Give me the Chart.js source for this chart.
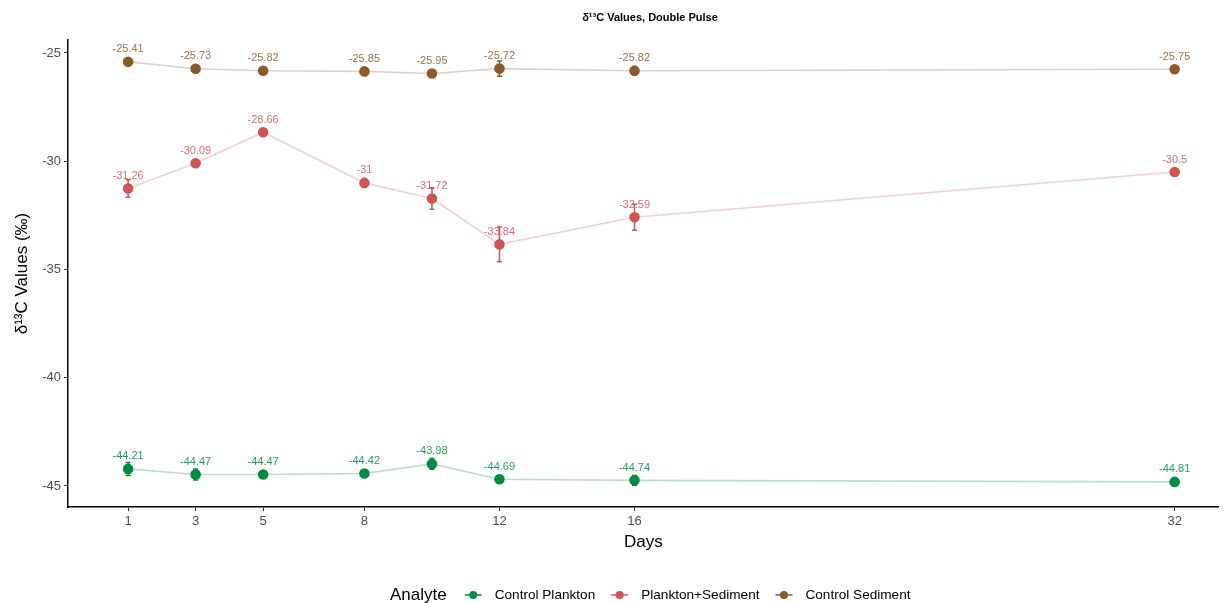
<!DOCTYPE html>
<html lang="en">
<head>
  <meta charset="UTF-8">
  <title>d13C Values, Double Pulse</title>
  <script src="https://cdn.jsdelivr.net/npm/chart.js"></script>
  <style>
    html, body { margin: 0; padding: 0; background: #fff; }
    .chart-container { position: relative; width: 1225px; height: 603px; }
  </style>
</head>
<body>
  <div class="chart-container">
    <canvas id="isoChart"></canvas>
  </div>

  <script>
    // sampling days and the ticks shown on the x axis
    const days = [1, 3, 5, 8, 10, 12, 16, 32];
    const dayTicks = [1, 3, 5, 8, 12, 16, 32];
    const valueTicks = [-45, -40, -35, -30, -25];

    // mean d13C per analyte, with the error bar half-widths
    const controlPlankton = [-44.21, -44.47, -44.47, -44.42, -43.98, -44.69, -44.74, -44.81];
    const controlPlanktonErr = [0.3, 0.25, 0.08, 0.12, 0.25, 0.05, 0.22, 0.1];
    const planktonSediment = [-31.26, -30.09, -28.66, -31, -31.72, -33.84, -32.59, -30.5];
    const planktonSedimentErr = [0.4, 0.15, 0.05, 0.2, 0.5, 0.8, 0.6, 0.05];
    const controlSediment = [-25.41, -25.73, -25.82, -25.85, -25.95, -25.72, -25.82, -25.75];
    const controlSedimentErr = [0.05, 0.08, 0.12, 0.05, 0.08, 0.35, 0.2, 0.1];

    const seriesNames = ['Control Plankton', 'Plankton+Sediment', 'Control Sediment'];
    const seriesColors = ['#008B45', '#CD5555', '#8B5A2B'];
    const lineColors = ['rgba(0,139,69,0.28)', 'rgba(205,85,85,0.28)', 'rgba(139,90,43,0.28)'];

    const FONT = '"Liberation Sans", Arial, sans-serif';

    function makeSet(i, values, errs) {
      return {
        label: seriesNames[i],
        data: days.map((d, k) => ({ x: d, y: values[k] })),
        errs: errs,
        borderColor: lineColors[i],
        backgroundColor: seriesColors[i],
        pointBackgroundColor: seriesColors[i],
        pointBorderColor: seriesColors[i],
        pointRadius: 4.5,
        pointHoverRadius: 4.5,
        borderWidth: 1.6,
        tension: 0,
        showLine: true
      };
    }

    // error bars, value labels, title and legend
    const decorations = {
      id: 'decorations',
      afterDatasetsDraw(chart) {
        const ctx = chart.ctx;
        const yScale = chart.scales.y;
        chart.data.datasets.forEach((ds, i) => {
          const meta = chart.getDatasetMeta(i);
          ctx.save();
          ctx.strokeStyle = seriesColors[i];
          ctx.lineWidth = 1.5;
          meta.data.forEach((pt, k) => {
            const v = ds.data[k].y;
            const e = ds.errs[k];
            const top = yScale.getPixelForValue(v + e);
            const bot = yScale.getPixelForValue(v - e);
            ctx.beginPath();
            ctx.moveTo(pt.x, top); ctx.lineTo(pt.x, bot);
            ctx.moveTo(pt.x - 2.5, top); ctx.lineTo(pt.x + 2.5, top);
            ctx.moveTo(pt.x - 2.5, bot); ctx.lineTo(pt.x + 2.5, bot);
            ctx.stroke();
          });
          ctx.fillStyle = seriesColors[i];
          ctx.globalAlpha = 0.85;
          ctx.font = '11px ' + FONT;
          ctx.textAlign = 'center';
          ctx.textBaseline = 'bottom';
          meta.data.forEach((pt, k) => {
            ctx.fillText(String(ds.data[k].y), pt.x, pt.y - 7);
          });
          ctx.restore();
        });
      },
      afterDraw(chart) {
        const ctx = chart.ctx;
        ctx.save();
        // title
        ctx.fillStyle = '#000';
        ctx.font = 'bold 11px ' + FONT;
        ctx.textAlign = 'center';
        ctx.textBaseline = 'middle';
        ctx.fillText('δ¹³C Values, Double Pulse', 650, 18);

        // legend
        const y = 595;
        ctx.textAlign = 'left';
        ctx.font = '17px ' + FONT;
        let x = 390;
        ctx.fillText('Analyte', x, y);
        x += ctx.measureText('Analyte').width + 18;
        ctx.font = '13.6px ' + FONT;
        seriesNames.forEach((name, i) => {
          ctx.strokeStyle = seriesColors[i];
          ctx.lineWidth = 1.5;
          ctx.beginPath();
          ctx.moveTo(x, y); ctx.lineTo(x + 17, y);
          ctx.stroke();
          ctx.fillStyle = seriesColors[i];
          ctx.beginPath();
          ctx.arc(x + 8.5, y, 4, 0, Math.PI * 2);
          ctx.fill();
          ctx.fillStyle = '#000';
          ctx.fillText(name, x + 30, y);
          x += 30 + ctx.measureText(name).width + 16;
        });
        ctx.restore();
      }
    };

    new Chart(document.getElementById('isoChart'), {
      type: 'scatter',
      data: {
        datasets: [
          makeSet(0, controlPlankton, controlPlanktonErr),
          makeSet(1, planktonSediment, planktonSedimentErr),
          makeSet(2, controlSediment, controlSedimentErr)
        ]
      },
      options: {
        responsive: true,
        maintainAspectRatio: false,
        animation: false,
        layout: { padding: { top: 40, right: 0, bottom: 0, left: 0 } },
        plugins: {
          legend: { display: false },
          title: { display: false },
          tooltip: { enabled: false }
        },
        scales: {
          x: {
            type: 'linear',
            min: -0.78,
            max: 33.31,
            afterBuildTicks: s => { s.ticks = dayTicks.map(v => ({ value: v })); },
            afterFit: s => { s.height = 96; },
            grid: { display: true, drawOnChartArea: false, drawTicks: true, tickLength: 4, color: '#333' },
            border: { display: true, color: '#000', width: 1.5 },
            ticks: { color: '#4d4d4d', font: { family: FONT, size: 13 }, padding: 3, maxRotation: 0 },
            title: { display: true, text: 'Days', color: '#000', font: { family: FONT, size: 17 }, padding: { top: 0, bottom: 50 } }
          },
          y: {
            type: 'linear',
            min: -45.97,
            max: -24.4,
            afterBuildTicks: s => { s.ticks = valueTicks.map(v => ({ value: v })); },
            afterFit: s => { s.width = 68; },
            grid: { display: true, drawOnChartArea: false, drawTicks: true, tickLength: 4, color: '#333' },
            border: { display: true, color: '#000', width: 1.5 },
            ticks: { color: '#4d4d4d', font: { family: FONT, size: 13 }, padding: 3 },
            title: { display: true, text: 'δ¹³C Values (‰)', color: '#000', font: { family: FONT, size: 17 }, padding: { top: 12, bottom: 0 } }
          }
        }
      },
      plugins: [decorations]
    });
  </script>
</body>
</html>
